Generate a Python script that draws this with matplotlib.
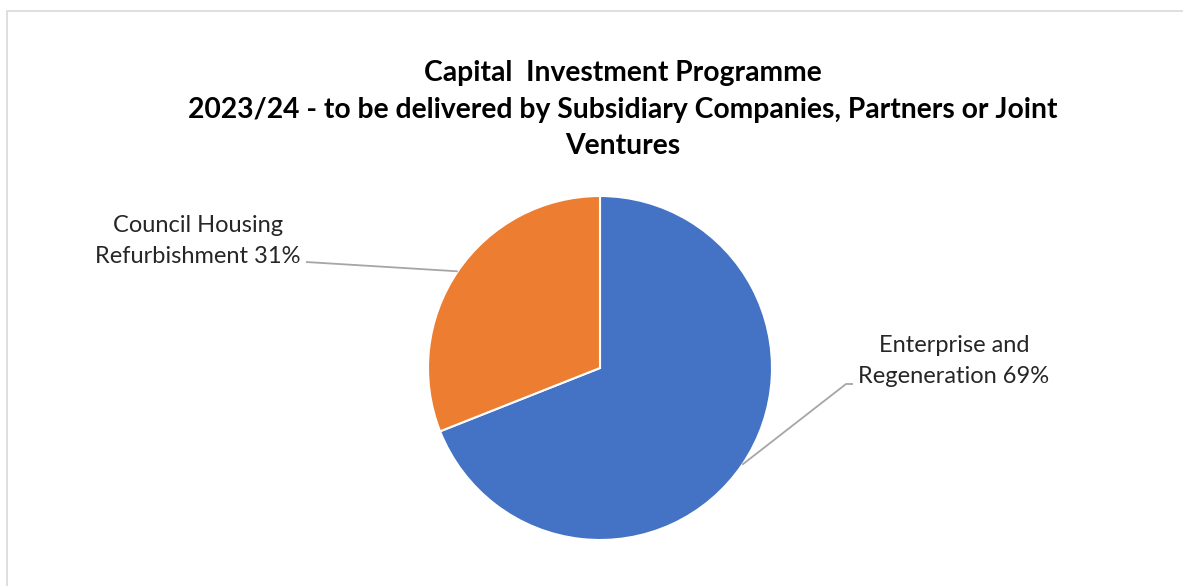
import numpy as np
import matplotlib
matplotlib.use("Agg")
import matplotlib.pyplot as plt
from matplotlib.patches import Rectangle

categories = ["Enterprise and\nRegeneration", "Council Housing\nRefurbishment"]
shares = [69, 31]
colors = ["#4472C4", "#ED7D31"]
title = ("Capital  Investment Programme\n"
         "2023/24 - to be delivered by Subsidiary Companies, Partners or Joint\n"
         "Ventures")

W, H = 1183, 586
fig = plt.figure(figsize=(W / 100, H / 100), dpi=100)
plt.rcParams['font.family'] = ['Lato', 'DejaVu Sans']

# border
fig.patches.append(Rectangle((7 / W, -0.02), 1.1, 1 - 11 / H + 0.02, transform=fig.transFigure,
                             fill=False, edgecolor="#D9D9D9", linewidth=1.2))

cx, cy, r = 600, 368, 172
ax = fig.add_axes([(cx - r) / W, (H - cy - r) / H, 2 * r / W, 2 * r / H])
wedges, _ = ax.pie(shares, colors=colors, startangle=90, counterclock=False,
                   radius=1, wedgeprops=dict(edgecolor="white", linewidth=1.5))
ax.set_xlim(-1, 1)
ax.set_ylim(-1, 1)
ax.axis("off")

fig.text(623 / W, 1 - 110 / H, title, ha="center", va="center", fontsize=20.3,
         fontweight="bold", linespacing=1.5, color="#000000")

def px2data(px, py):
    return ((px - cx) / r, (cy - py) / r)

# label layout (pixel positions of text blocks and leader-line ends)
label_pos = [(954, 361), (198, 241)]
leader_pts = [[(853, 384), (846, 384)], [(306, 262)]]

for w, lab, s, pos, pts in zip(wedges, categories, shares, label_pos, leader_pts):
    mid = np.deg2rad((w.theta1 + w.theta2) / 2)
    ex, ey = np.cos(mid), np.sin(mid)
    xs = [px2data(*p)[0] for p in pts] + [ex]
    ys = [px2data(*p)[1] for p in pts] + [ey]
    ax.plot(xs, ys, color="#A6A6A6", linewidth=1.3, clip_on=False, solid_capstyle="butt")
    tx, ty = px2data(*pos)
    ax.text(tx, ty, f"{lab} {s}%", ha="center", va="center", fontsize=17,
            color="#262626", linespacing=1.6, clip_on=False)

fig.savefig("out.png", dpi=100, facecolor="white")
